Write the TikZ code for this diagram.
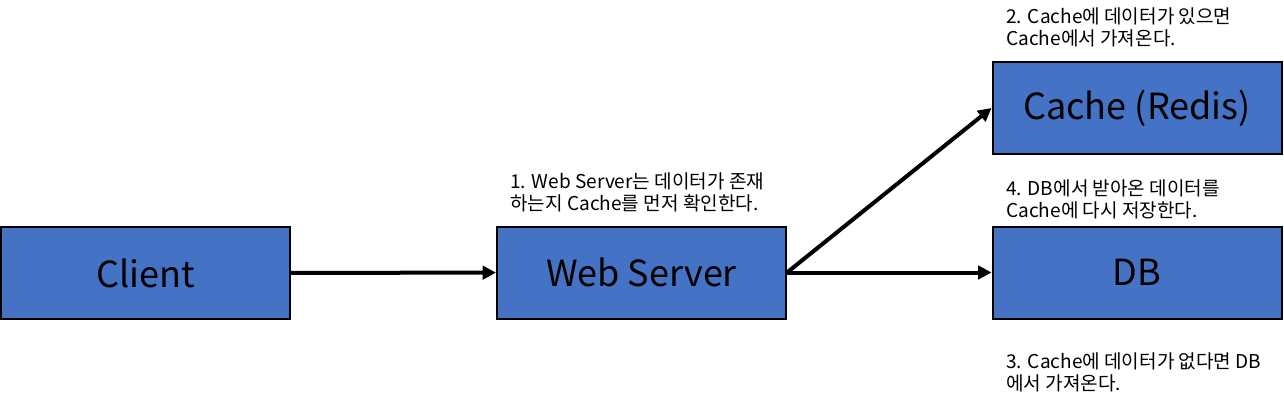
\documentclass[tikz,border=0pt]{standalone}
\usepackage{fontspec}
\setmainfont{Noto Sans CJK KR}
\usetikzlibrary{arrows.meta}
\definecolor{blue1}{RGB}{68,114,196}

\begin{document}
\begin{tikzpicture}[x=0.75pt,y=-0.75pt,>={Triangle[length=10pt,width=10pt]},
    box/.style={draw,line width=1.5pt,fill=blue1,minimum width=216.75pt,minimum height=69pt,inner sep=0pt,font=\fontsize{27}{32}\selectfont},
    lbl/.style={anchor=north west,align=left,inner sep=0pt,font=\fontsize{14.3}{16.5}\selectfont}]

    \useasboundingbox (0,0) rectangle (1284,404);

    \node[box] (client) at (145.5,273) {Client};
    \node[box] (web)    at (641.5,272.5) {Web Server};
    \node[box] (cache)  at (1137,108) {Cache (Redis)};
    \node[box] (db)     at (1137,272.5) {DB};

    \draw[->,line width=3pt] (client) -- (web);
    \draw[->,line width=3pt] (web.east) -- (cache.west);
    \draw[->,line width=3pt] (web.east) -- (db.west);

    \node[lbl] (t1) at (510,172) {1. Web Server는 데이터가 존재\\하는지 Cache를 먼저 확인한다.};
    \node[lbl] (t2) at (1006,7) {2. Cache에 데이터가 있으면\\Cache에서 가져온다.};
    \node[lbl] (t4) at (1006,179) {4. DB에서 받아온 데이터를\\Cache에 다시 저장한다.};
    \node[lbl] (t3) at (1006,352) {3. Cache에 데이터가 없다면 DB\\에서 가져온다.};

\end{tikzpicture}
\end{document}
